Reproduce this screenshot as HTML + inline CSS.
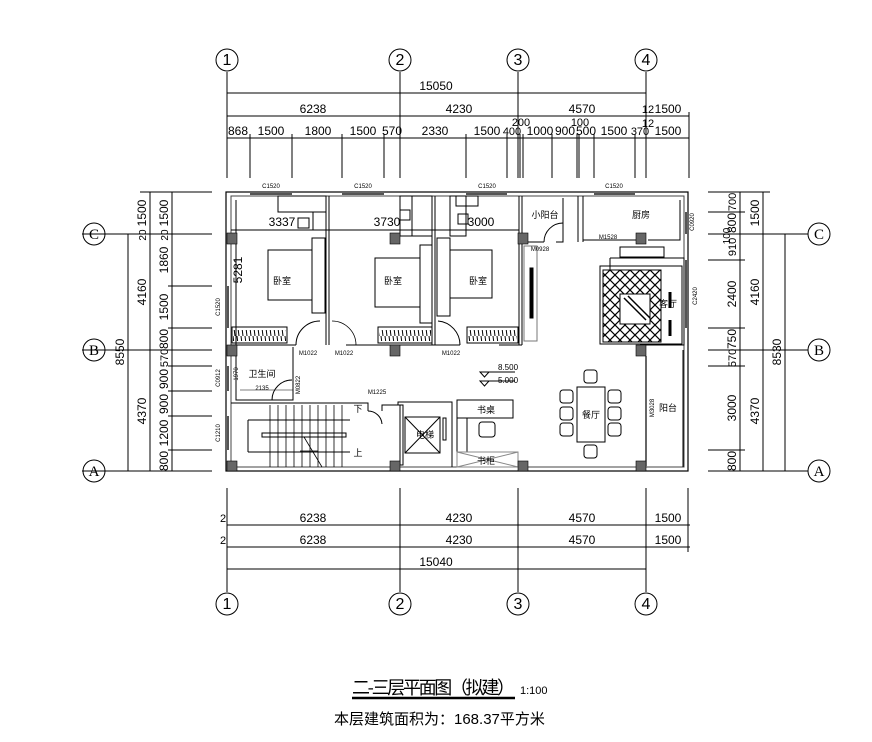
<!DOCTYPE html>
<html><head><meta charset="utf-8"><style>
html,body{margin:0;padding:0;background:#fff;}
svg{display:block;font-family:"Liberation Sans","Noto Sans CJK SC",sans-serif;}
.t{font-size:12px;fill:#000;}
.s{font-size:6px;fill:#000;}
.r{font-size:9px;fill:#000;font-family:"Noto Sans CJK SC",sans-serif;}
</style></head><body>
<svg width="872" height="742" viewBox="0 0 872 742" xmlns="http://www.w3.org/2000/svg">
<g stroke="#000" stroke-width="1" fill="none">
<!-- grid axis lines top -->
<line x1="227" y1="72" x2="227" y2="178"/><line x1="400" y1="72" x2="400" y2="178"/>
<line x1="518" y1="72" x2="518" y2="178"/><line x1="646" y1="72" x2="646" y2="178"/>
<!-- other top extension -->
<line x1="250" y1="134" x2="250" y2="178"/><line x1="292" y1="134" x2="292" y2="178"/>
<line x1="342" y1="134" x2="342" y2="178"/><line x1="384" y1="134" x2="384" y2="178"/>
<line x1="466" y1="134" x2="466" y2="178"/><line x1="507" y1="134" x2="507" y2="178"/>
<line x1="520" y1="134" x2="520" y2="178"/><line x1="523" y1="134" x2="523" y2="178"/>
<line x1="552" y1="134" x2="552" y2="178"/><line x1="577" y1="134" x2="577" y2="178"/>
<line x1="579" y1="134" x2="579" y2="178"/><line x1="594" y1="134" x2="594" y2="178"/>
<line x1="635" y1="134" x2="635" y2="178"/><line x1="689" y1="112" x2="689" y2="178"/>
<line x1="227" y1="93" x2="646" y2="93"/>
<line x1="227" y1="116" x2="689" y2="116"/>
<line x1="227" y1="138" x2="689" y2="138"/>
<!-- bottom -->
<line x1="227" y1="488" x2="227" y2="592"/><line x1="400" y1="488" x2="400" y2="592"/>
<line x1="518" y1="488" x2="518" y2="592"/><line x1="646" y1="488" x2="646" y2="592"/>
<line x1="688" y1="488" x2="688" y2="552"/>
<line x1="227" y1="525" x2="690" y2="525"/>
<line x1="227" y1="547" x2="690" y2="547"/>
<line x1="227" y1="569" x2="646" y2="569"/>
<!-- left -->
<line x1="82" y1="234" x2="212" y2="234"/><line x1="82" y1="350" x2="212" y2="350"/><line x1="82" y1="471" x2="212" y2="471"/>
<line x1="140" y1="192" x2="212" y2="192"/>
<line x1="168" y1="286" x2="212" y2="286"/><line x1="168" y1="328" x2="212" y2="328"/>
<line x1="168" y1="366" x2="212" y2="366"/><line x1="168" y1="391" x2="212" y2="391"/>
<line x1="168" y1="416" x2="212" y2="416"/><line x1="168" y1="450" x2="212" y2="450"/>
<line x1="128" y1="234" x2="128" y2="471"/><line x1="150" y1="192" x2="150" y2="471"/><line x1="172" y1="192" x2="172" y2="471"/>
<!-- right -->
<line x1="708" y1="234" x2="808" y2="234"/><line x1="708" y1="350" x2="808" y2="350"/><line x1="708" y1="471" x2="808" y2="471"/>
<line x1="708" y1="192" x2="770" y2="192"/><line x1="708" y1="212" x2="745" y2="212"/>
<line x1="708" y1="260" x2="745" y2="260"/><line x1="708" y1="328" x2="745" y2="328"/>
<line x1="708" y1="366" x2="745" y2="366"/><line x1="708" y1="450" x2="745" y2="450"/>
<line x1="740" y1="192" x2="740" y2="471"/><line x1="763" y1="192" x2="763" y2="471"/><line x1="785" y1="234" x2="785" y2="471"/>
<!-- circles -->
<circle cx="227" cy="60" r="11"/><circle cx="400" cy="60" r="11"/><circle cx="518" cy="60" r="11"/><circle cx="646" cy="60" r="11"/>
<circle cx="227" cy="604" r="11"/><circle cx="400" cy="604" r="11"/><circle cx="518" cy="604" r="11"/><circle cx="646" cy="604" r="11"/>
<circle cx="94" cy="234" r="11"/><circle cx="94" cy="350" r="11"/><circle cx="94" cy="471" r="11"/>
<circle cx="819" cy="234" r="11"/><circle cx="819" cy="350" r="11"/><circle cx="819" cy="471" r="11"/>

<!-- outer walls -->
<rect x="226" y="192" width="462" height="279" stroke-width="1.2"/>
<rect x="231" y="196" width="453" height="271" stroke="#444"/>
<!-- windows -->
<g stroke="#555" stroke-width="2">
<line x1="250" y1="194" x2="292" y2="194"/><line x1="342" y1="194" x2="384" y2="194"/>
<line x1="466" y1="194" x2="507" y2="194"/><line x1="594" y1="194" x2="635" y2="194"/>
<line x1="228" y1="286" x2="228" y2="328"/><line x1="228" y1="366" x2="228" y2="391"/>
<line x1="228" y1="416" x2="228" y2="450"/>
<line x1="686" y1="212" x2="686" y2="234"/><line x1="686" y1="260" x2="686" y2="328"/>
</g>
<!-- bedroom walls -->
<line x1="231" y1="230" x2="519" y2="230"/>
<line x1="236" y1="200" x2="236" y2="345"/>
<line x1="326" y1="196" x2="326" y2="345"/><line x1="329" y1="196" x2="329" y2="345"/>
<line x1="432" y1="196" x2="432" y2="345"/><line x1="435" y1="196" x2="435" y2="345"/>
<line x1="519" y1="196" x2="519" y2="345"/><line x1="522" y1="196" x2="522" y2="345"/>
<line x1="231" y1="345" x2="296" y2="345"/><line x1="346" y1="345" x2="460" y2="345"/><line x1="499" y1="345" x2="522" y2="345"/>
<path d="M296 345 A24 24 0 0 1 320 321"/><path d="M332 321 A24 24 0 0 1 356 345" stroke-width="0.8"/>
<path d="M438 321 A24 24 0 0 1 460 345"/>
<!-- desks in bedrooms -->
<rect x="278" y="196" width="48" height="16"/><rect x="313" y="212" width="13" height="18"/>
<rect x="400" y="196" width="12" height="40"/><rect x="412" y="196" width="20" height="40"/>
<rect x="450" y="196" width="16" height="40"/><rect x="456" y="196" width="22" height="10"/>
<rect x="298" y="218" width="11" height="10"/><rect x="400" y="210" width="10" height="10"/><rect x="458" y="214" width="10" height="10"/>
<!-- beds -->
<rect x="268" y="250" width="44" height="50"/><rect x="375" y="258" width="45" height="49"/><rect x="450" y="250" width="42" height="48"/>
<!-- closets -->
<rect x="312" y="238" width="13" height="75"/><rect x="420" y="245" width="12" height="78"/><rect x="437" y="238" width="13" height="78"/>
<!-- hatched wardrobes -->
<rect x="232" y="327" width="55" height="16"/><rect x="378" y="327" width="54" height="16"/><rect x="467" y="327" width="51" height="16"/>
</g>
<defs>
<pattern id="h" width="4" height="16" patternUnits="userSpaceOnUse"><line x1="1" y1="0" x2="3" y2="16" stroke="#000" stroke-width="1"/></pattern>
<pattern id="d" width="10" height="10" patternUnits="userSpaceOnUse"><path d="M0 0 L10 10 M10 0 L0 10" stroke="#000" stroke-width="1.2"/></pattern>
</defs>
<rect x="233" y="330" width="53" height="11" fill="url(#h)"/><rect x="379" y="330" width="52" height="11" fill="url(#h)"/><rect x="468" y="330" width="49" height="11" fill="url(#h)"/>
<g stroke="#000" fill="none">
<!-- bathroom -->
<path d="M236 347 V400 H293 V347"/>
<path d="M272 400 A20 20 0 0 1 292 380"/>
<line x1="240" y1="390" x2="293" y2="390" stroke-width="0.6"/>
<!-- stair -->
<path d="M231 403 H368 V411 M382 411 V405 H400"/>
<path d="M368 411 A14 14 0 0 1 382 424"/>
<rect x="262" y="433" width="84" height="4"/>
<path d="M248 420 H350 M248 452 H350 M248 420 V452"/>
<g stroke-width="0.8">
<line x1="270" y1="405" x2="270" y2="467"/><line x1="278" y1="405" x2="278" y2="467"/><line x1="286" y1="405" x2="286" y2="467"/>
<line x1="294" y1="405" x2="294" y2="467"/><line x1="302" y1="405" x2="302" y2="467"/><line x1="310" y1="405" x2="310" y2="467"/>
<line x1="318" y1="405" x2="318" y2="467"/><line x1="326" y1="405" x2="326" y2="467"/><line x1="334" y1="405" x2="334" y2="467"/>
<line x1="342" y1="405" x2="342" y2="467"/>
<line x1="304" y1="437" x2="322" y2="467"/><line x1="300" y1="451" x2="318" y2="451"/>
</g>
<!-- elevator -->
<path d="M392 405 H398 V402 H452 V467"/><rect x="400" y="405" width="3" height="60"/>
<rect x="405" y="417" width="35" height="36"/><path d="M405 417 L440 453 M440 417 L405 453"/>
<rect x="443" y="418" width="3" height="22"/>
<!-- desk -->
<rect x="457" y="400" width="56" height="18"/><rect x="457" y="418" width="10" height="34"/>
<rect x="479" y="422" width="16" height="15" rx="3"/>
<rect x="457" y="452" width="61" height="15" stroke="#888"/><path d="M457 452 L518 467 M518 452 L457 467" stroke="#888"/>
<!-- dining -->
<rect x="577" y="387" width="28" height="55"/>
<rect x="560" y="390" width="13" height="13" rx="3"/><rect x="560" y="407" width="13" height="13" rx="3"/><rect x="560" y="423" width="13" height="13" rx="3"/>
<rect x="608" y="390" width="13" height="13" rx="3"/><rect x="608" y="407" width="13" height="13" rx="3"/><rect x="608" y="423" width="13" height="13" rx="3"/>
<rect x="584" y="370" width="13" height="13" rx="3"/><rect x="584" y="445" width="13" height="13" rx="3"/>
<!-- elevation marks -->
<path d="M480 372 L489 372 L484.5 377 Z M484 372 H515"/><path d="M480 381 L489 381 L484.5 386 Z M484 381 H515"/>
<!-- right area -->
<path d="M522 242 H544 M556 242 H563 V198"/><path d="M544 242 A19 19 0 0 1 563 223"/>
<line x1="578" y1="196" x2="578" y2="242"/><line x1="583" y1="196" x2="583" y2="242"/>
<path d="M583 240 H640 M648 240 H680 V200"/>
<rect x="524" y="246" width="13" height="95" stroke="#777"/><rect x="530" y="268" width="3" height="50" fill="#000"/>
<rect x="620" y="247" width="44" height="10"/>
<path d="M610 258 H684 V345 H640 M610 258 V270"/>
<rect x="600" y="266" width="82" height="78"/>
<rect x="603" y="270" width="58" height="72" fill="url(#d)"/>
<rect x="620" y="294" width="30" height="30" fill="#fff"/>
<path d="M624 298 L646 320 M628 296 L650 318" stroke-width="1.5"/>
<path d="M670 292 V308 M670 320 V336" stroke-width="3"/>
<line x1="646" y1="356" x2="646" y2="466" stroke-width="1.2"/>
<line x1="683" y1="350" x2="683" y2="467"/>
</g>
<!-- columns -->
<g fill="#666" stroke="#000" stroke-width="0.6">
<rect x="227" y="233" width="10" height="11"/><rect x="390" y="233" width="10" height="11"/><rect x="518" y="233" width="10" height="11"/><rect x="636" y="233" width="10" height="11"/>
<rect x="227" y="345" width="10" height="11"/><rect x="390" y="345" width="10" height="11"/><rect x="636" y="345" width="10" height="11"/>
<rect x="227" y="461" width="10" height="10"/><rect x="390" y="461" width="10" height="10"/><rect x="518" y="461" width="10" height="10"/><rect x="636" y="461" width="10" height="10"/>
</g>
<!-- texts -->
<g class="t" text-anchor="middle">
<text x="227" y="65" font-size="16">1</text><text x="400" y="65" font-size="16">2</text><text x="518" y="65" font-size="16">3</text><text x="646" y="65" font-size="16">4</text>
<text x="227" y="609" font-size="16">1</text><text x="400" y="609" font-size="16">2</text><text x="518" y="609" font-size="16">3</text><text x="646" y="609" font-size="16">4</text>
<text x="94" y="239" font-size="15" font-family="Liberation Serif">C</text><text x="94" y="355" font-size="15" font-family="Liberation Serif">B</text><text x="94" y="476" font-size="15" font-family="Liberation Serif">A</text>
<text x="819" y="239" font-size="15" font-family="Liberation Serif">C</text><text x="819" y="355" font-size="15" font-family="Liberation Serif">B</text><text x="819" y="476" font-size="15" font-family="Liberation Serif">A</text>
<text x="436" y="90">15050</text>
<text x="313" y="113">6238</text><text x="459" y="113">4230</text><text x="582" y="113">4570</text><text x="648" y="113" font-size="11">12</text><text x="668" y="113">1500</text>
<text x="521" y="126" font-size="11">200</text><text x="580" y="126" font-size="11">100</text><text x="648" y="127" font-size="11">12</text>
<text x="238" y="135">868</text><text x="271" y="135">1500</text><text x="318" y="135">1800</text><text x="363" y="135">1500</text><text x="392" y="135">570</text>
<text x="435" y="135">2330</text><text x="487" y="135">1500</text><text x="512" y="135" font-size="11">400</text><text x="540" y="135">1000</text>
<text x="565" y="135">900</text><text x="586" y="135">500</text><text x="614" y="135">1500</text><text x="640" y="135" font-size="11">370</text><text x="668" y="135">1500</text>
<text x="313" y="522">6238</text><text x="459" y="522">4230</text><text x="582" y="522">4570</text><text x="668" y="522">1500</text>
<text x="313" y="544">6238</text><text x="459" y="544">4230</text><text x="582" y="544">4570</text><text x="668" y="544">1500</text>
<text x="223" y="522" font-size="11">2</text><text x="223" y="544" font-size="11">2</text>
<text x="436" y="566">15040</text>
<text x="282" y="226">3337</text><text x="387" y="226">3730</text><text x="481" y="226">3000</text>
</g>
<g class="t" text-anchor="middle">
<text transform="translate(124,352) rotate(-90)">8550</text>
<text transform="translate(146,292) rotate(-90)">4160</text><text transform="translate(146,411) rotate(-90)">4370</text>
<text transform="translate(146,213) rotate(-90)">1500</text><text transform="translate(168,213) rotate(-90)">1500</text>
<text transform="translate(146,235) rotate(-90)" font-size="10">20</text><text transform="translate(168,235) rotate(-90)" font-size="10">20</text>
<text transform="translate(168,260) rotate(-90)">1860</text><text transform="translate(168,307) rotate(-90)">1500</text>
<text transform="translate(168,339) rotate(-90)">800</text><text transform="translate(168,358) rotate(-90)" font-size="11">570</text>
<text transform="translate(168,379) rotate(-90)">900</text><text transform="translate(168,404) rotate(-90)">900</text>
<text transform="translate(168,433) rotate(-90)">1200</text><text transform="translate(168,461) rotate(-90)">800</text>
<text transform="translate(242,270) rotate(-90)">5281</text>
<text transform="translate(736,202) rotate(-90)" font-size="11">700</text><text transform="translate(736,223) rotate(-90)">800</text>
<text transform="translate(730,236) rotate(-90)" font-size="10">100</text>
<text transform="translate(736,247) rotate(-90)" font-size="11">910</text><text transform="translate(736,294) rotate(-90)">2400</text>
<text transform="translate(736,339) rotate(-90)">750</text><text transform="translate(736,358) rotate(-90)" font-size="11">570</text>
<text transform="translate(736,408) rotate(-90)">3000</text><text transform="translate(736,461) rotate(-90)">800</text>
<text transform="translate(759,213) rotate(-90)">1500</text><text transform="translate(759,292) rotate(-90)">4160</text><text transform="translate(759,411) rotate(-90)">4370</text>
<text transform="translate(781,352) rotate(-90)">8530</text>
</g>
<g class="s" text-anchor="middle">
<text x="271" y="188">C1520</text><text x="363" y="188">C1520</text><text x="487" y="188">C1520</text><text x="614" y="188">C1520</text>
<text x="308" y="355">M1022</text><text x="344" y="355">M1022</text><text x="451" y="355">M1022</text>
<text x="377" y="394">M1225</text><text x="540" y="251">M0928</text><text x="608" y="239">M1528</text>
<text x="262" y="390">2135</text>
<text transform="translate(220,307) rotate(-90)">C1520</text><text transform="translate(220,378) rotate(-90)">C0912</text>
<text transform="translate(220,433) rotate(-90)">C1210</text><text transform="translate(238,374) rotate(-90)">1970</text>
<text transform="translate(300,385) rotate(-90)">M0822</text><text transform="translate(694,222) rotate(-90)">C0920</text>
<text transform="translate(697,296) rotate(-90)">C2420</text><text transform="translate(654,408) rotate(-90)">M3028</text>
</g>
<g class="r" text-anchor="middle">
<text x="282" y="284">卧室</text><text x="393" y="284">卧室</text><text x="478" y="284">卧室</text>
<text x="262" y="377">卫生间</text><text x="545" y="218">小阳台</text><text x="641" y="218">厨房</text>
<text x="668" y="307">客厅</text><text x="591" y="418">餐厅</text><text x="668" y="411">阳台</text>
<text x="486" y="413">书桌</text><text x="486" y="464">书柜</text><text x="425" y="438">电梯</text>
<text x="358" y="412">下</text><text x="358" y="456">上</text>
</g>
<g class="s"><text x="498" y="370" font-size="8">8.500</text><text x="498" y="383" font-size="8">5.000</text></g>
<text x="352" y="694" font-size="18" font-family="Noto Sans CJK SC,sans-serif" textLength="163">二-三层平面图（拟建）</text>
<line x1="352" y1="698" x2="515" y2="698" stroke="#000" stroke-width="2.5"/>
<text x="520" y="694" font-size="11" font-family="Liberation Sans,sans-serif">1:100</text>
<text x="334" y="724" font-size="15" font-family="Liberation Sans,Noto Sans CJK SC,sans-serif">本层建筑面积为：168.37平方米</text>
</svg>
</body></html>
